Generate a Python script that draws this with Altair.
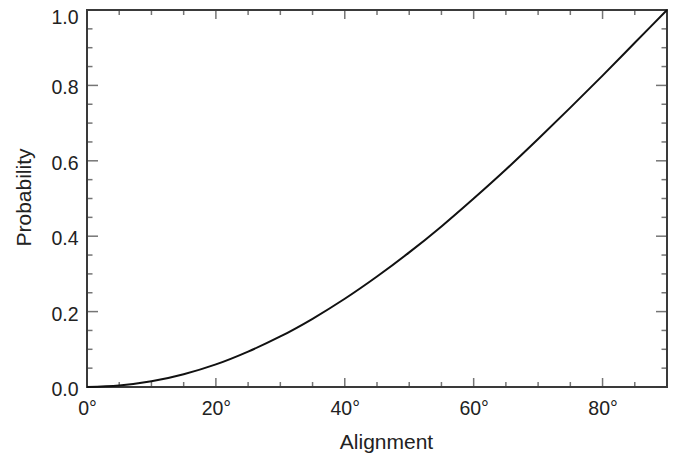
import altair as alt
import pandas as pd

# Curve (alignment in degrees, probability)
angles = [0, 5, 10, 15, 20, 25, 30, 35, 40, 45, 50, 55, 60, 65, 70, 75, 80, 85, 90]
probs = [0.0, 0.004, 0.015, 0.034, 0.060, 0.094, 0.134, 0.181, 0.234, 0.293,
         0.357, 0.426, 0.500, 0.577, 0.658, 0.741, 0.826, 0.913, 1.0]

x_major = [0, 20, 40, 60, 80]
x_minor = [5, 10, 15, 25, 30, 35, 45, 50, 55, 65, 70, 75, 85]
y_major = [0.0, 0.2, 0.4, 0.6, 0.8, 1.0]
y_minor = [0.05, 0.1, 0.15, 0.25, 0.3, 0.35, 0.45, 0.5, 0.55,
           0.65, 0.7, 0.75, 0.85, 0.9, 0.95]

FONT = "Liberation Sans"
FRAME = "#3a3a3a"
TEXT = "#222222"

curve = pd.DataFrame({"angle": angles, "prob": probs})
xmaj = pd.DataFrame({"angle": x_major})
xmin = pd.DataFrame({"angle": x_minor})
ymaj = pd.DataFrame({"prob": y_major})
ymin = pd.DataFrame({"prob": y_minor})

xscale = alt.Scale(domain=[0, 90], nice=False, zero=False)
yscale = alt.Scale(domain=[0, 1], nice=False)

xaxis = alt.Axis(values=x_major, labelExpr="datum.value + '°'", title="Alignment",
                 ticks=False, domain=False, grid=False, labelPadding=12,
                 labelFlush=False, labelFontSize=19.5, labelFont=FONT, labelColor=TEXT,
                 titleFont=FONT, titleFontSize=21, titleFontWeight="normal",
                 titleColor=TEXT, titleX=299, titleY=61, titleBaseline="alphabetic",
                 titleAnchor="start", titleAlign="center")
yaxis = alt.Axis(values=y_major, format=".1f", title="Probability",
                 ticks=False, domain=False, grid=False, labelPadding=9,
                 labelOffset={"condition": {"test": "datum.value >= 1", "value": 7},
                              "value": 2.5},
                 labelFlush=False,
                 labelFontSize=19.5, labelFont=FONT, labelColor=TEXT,
                 titleFont=FONT, titleFontSize=21, titleFontWeight="normal",
                 titleColor=TEXT, titleX=-57, titleY=187, titleAngle=-90,
                 titleBaseline="alphabetic", titleAlign="center")

line = alt.Chart(curve).mark_line(color="#111", strokeWidth=2, interpolate="monotone").encode(
    x=alt.X("angle:Q", scale=xscale, axis=xaxis),
    y=alt.Y("prob:Q", scale=yscale, axis=yaxis),
)

def xticks(df, size, bottom):
    off = -size / 2 if bottom else size / 2
    return alt.Chart(df).mark_tick(orient="vertical", size=size, thickness=1.5,
                                   color=FRAME, yOffset=off).encode(
        x=alt.X("angle:Q", scale=xscale),
        y=alt.datum(0 if bottom else 1),
    )

def yticks(df, size, left):
    off = size / 2 if left else -size / 2
    return alt.Chart(df).mark_tick(orient="horizontal", size=size, thickness=1.5,
                                   color=FRAME, xOffset=off).encode(
        x=alt.datum(0 if left else 90),
        y=alt.Y("prob:Q", scale=yscale),
    )

chart = alt.layer(
    xticks(xmaj, 9, True), xticks(xmin, 5, True),
    xticks(xmaj, 9, False), xticks(xmin, 5, False),
    yticks(ymaj, 11, True), yticks(ymin, 5.5, True),
    yticks(ymaj, 11, False), yticks(ymin, 5.5, False),
    line,
).properties(
    width=580, height=377, background="white",
    autosize=alt.AutoSizeParams(type="none"),
    padding={"left": 79, "top": 2, "right": 3, "bottom": 68},
).configure_view(
    stroke=FRAME, strokeWidth=2
)

chart.save("out.html", embed_options={"renderer": "svg", "actions": False})
